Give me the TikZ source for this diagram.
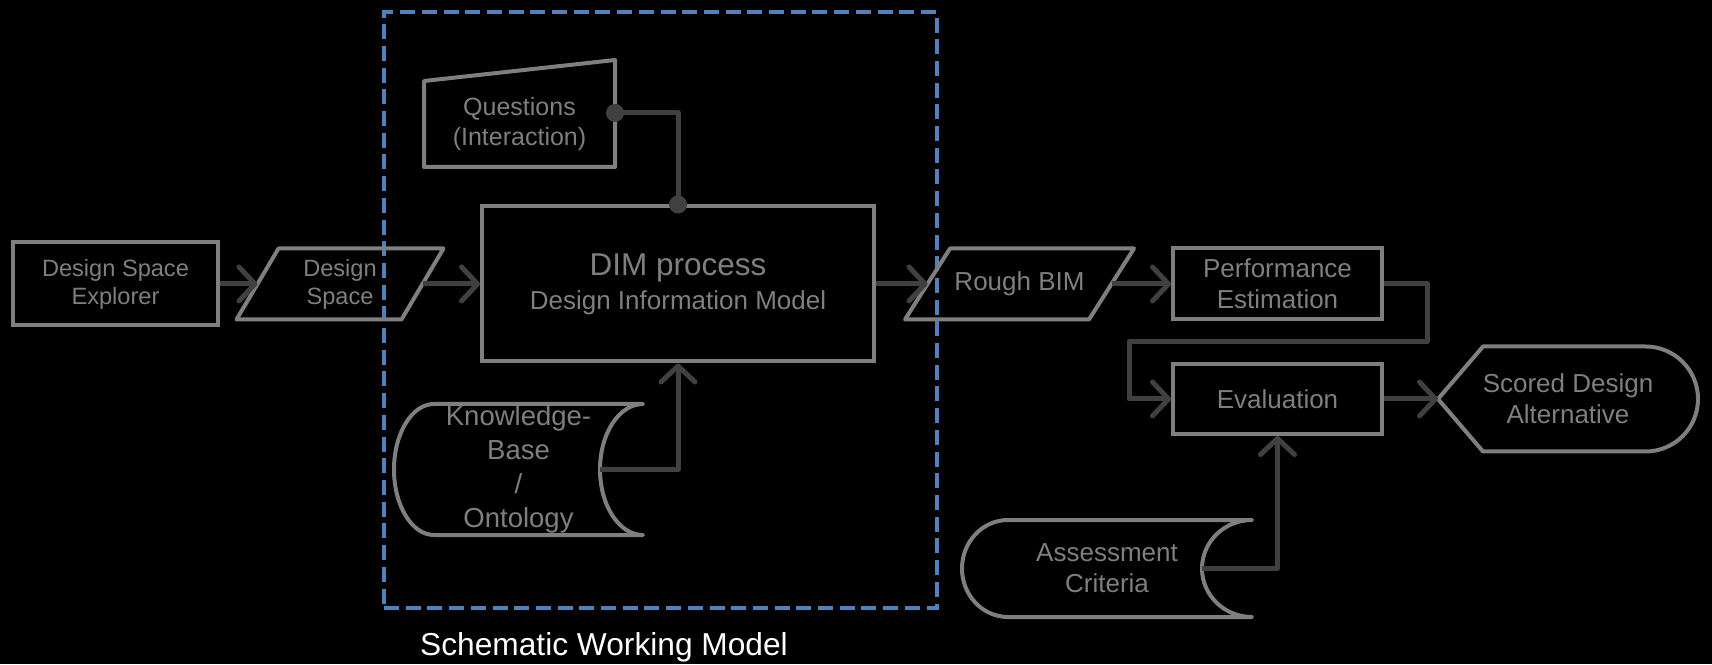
\documentclass[tikz,border=0pt]{standalone}
\usepackage{fontspec}
\setmainfont{Liberation Sans}
\usetikzlibrary{calc,arrows.meta}
\definecolor{mygray}{RGB}{127,127,127}
\definecolor{mydark}{RGB}{64,64,64}
\definecolor{myblue}{RGB}{79,129,189}

\begin{document}
\begin{tikzpicture}[x=1pt,y=1pt,
  every node/.style={text=mygray,align=center,font=\fontsize{26}{31}\selectfont},
  procbox/.style={draw=mygray,line width=4pt,rectangle},
  nodebody/.style={rectangle,inner sep=0pt,outer sep=0pt},
  outline/.style={draw=mygray,line width=4pt,line join=round,line cap=round},
  flow/.style={draw=mydark,line width=5pt,line join=round,-{Straight Barb[length=16pt,width=34pt,round]}},
  dotflow/.style={draw=mydark,line width=5pt,line join=round,{Circle[length=18pt]}-{Circle[length=18pt]},shorten <=-9pt,shorten >=-9pt},
  schema/.style={draw=myblue,line width=4pt,dash pattern=on 15pt off 6.7pt,inner sep=0pt}
]
\useasboundingbox (0,0) rectangle (1712,664);
\fill[black] (0,0) rectangle (1712,664);

% the schematic working model
\node[schema,minimum width=553pt,minimum height=596pt] (swm) at (660.5,354) {};
\node[text=white,anchor=base,font=\fontsize{31.7}{38}\selectfont] (swmlabel) at (604,9) {Schematic Working Model};

% the main line
\node[procbox,minimum width=205pt,minimum height=83pt,font=\fontsize{23.6}{28}\selectfont] (explorer) at (115.5,380) {Design Space\\Explorer};
\node[nodebody,minimum width=165pt,minimum height=71pt,font=\fontsize{23.6}{28}\selectfont] (dspace) at (340,380) {Design\\Space};
\node[procbox,minimum width=392pt,minimum height=155pt] (dim) at (678,380) {{\fontsize{31.5}{36}\selectfont DIM process}\\[3pt]Design Information Model};
\node[nodebody,minimum width=184pt,minimum height=71pt] (rough) at (1019.5,380) {Rough BIM};
\node[procbox,minimum width=209pt,minimum height=71pt] (perf) at (1277.5,380) {Performance\\Estimation};
\node[procbox,minimum width=209pt,minimum height=70pt] (eval) at (1277.5,265) {Evaluation};
\node[nodebody,minimum width=260pt,minimum height=105pt] (scored) at (1568,265) {Scored Design\\Alternative};

% inputs
\node[nodebody,minimum width=191pt,minimum height=86pt,font=\fontsize{25}{30}\selectfont] (quest) at (519.5,540) {Questions\\(Interaction)};
\node[nodebody,minimum width=249pt,minimum height=131pt,font=\fontsize{27.5}{34}\selectfont] (kb) at (518.5,194.5) {Knowledge-\\Base\\/\\Ontology};
\node[nodebody,minimum width=290pt,minimum height=97pt] (asc) at (1107,95.5) {Assessment\\Criteria};

% the outlines
\draw[outline] ($(dspace.south west)+(-21,0)$) -- ($(dspace.south east)+(-21,0)$) -- ($(dspace.north east)+(21,0)$) -- ($(dspace.north west)+(21,0)$) -- cycle;
\draw[outline] ($(rough.south west)+(-22.5,0)$) -- ($(rough.south east)+(-22.5,0)$) -- ($(rough.north east)+(22.5,0)$) -- ($(rough.north west)+(22.5,0)$) -- cycle;
\draw[outline] (quest.south west) -- (quest.south east) -- ($(quest.north east)+(0,21)$) -- (quest.north west) -- cycle;
\draw[outline] ($(kb.north west)+(40,0)$) -- (kb.north east) arc[start angle=90,end angle=270,x radius=43,y radius=65.5] -- ($(kb.south west)+(40,0)$) arc[start angle=270,end angle=90,x radius=40,y radius=65.5] -- cycle;
\draw[outline] ($(asc.north west)+(46,0)$) -- (asc.north east) arc[start angle=90,end angle=270,x radius=50,y radius=48.5] -- ($(asc.south west)+(46,0)$) arc[start angle=270,end angle=90,x radius=46,y radius=48.5] -- cycle;
\draw[outline] (scored.west) -- ($(scored.north west)+(45,0)$) -- ($(scored.north east)+(-52.5,0)$) arc[start angle=90,end angle=-90,radius=52.5] -- ($(scored.south west)+(45,0)$) -- cycle;

% the edges
\draw[flow] (explorer.east) -- (dspace.west);
\draw[flow] (dspace.east) -- (dim.west);
\draw[flow] (dim.east) -- (rough.west);
\draw[flow] (rough.east) -- (perf.west);
\draw[flow] (perf.east) -- ++(43,0) |- ($(perf.south)!.5!(eval.north)$) -| ([xshift=-42pt]eval.west) -- (eval.west);
\draw[flow] (eval.east) -- (scored.west);
\draw[flow] ([xshift=-43pt]kb.east) -| (dim.south);
\draw[flow] ([xshift=-50pt]asc.east) -| (eval.south);
\draw[dotflow] ([yshift=11pt]quest.east) -| (dim.north);
\end{tikzpicture}
\end{document}
